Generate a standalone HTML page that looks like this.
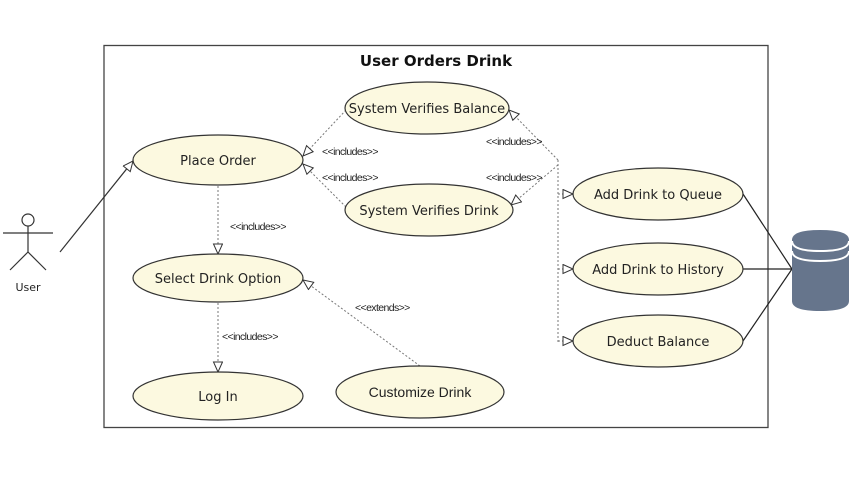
<!DOCTYPE html>
<html><head><meta charset="utf-8"><style>
html,body{margin:0;padding:0;background:#fff;width:859px;height:477px;overflow:hidden}
svg{display:block}
text{font-family:"DejaVu Sans","Liberation Sans",sans-serif;fill:#222}
.s{font-family:"Liberation Sans",sans-serif;font-size:10.5px;letter-spacing:-0.6px}
</style></head><body>
<svg width="859" height="477" viewBox="0 0 859 477" xmlns="http://www.w3.org/2000/svg">
<defs>
<marker id="t" markerWidth="14" markerHeight="12" refX="11" refY="5" orient="auto" markerUnits="userSpaceOnUse">
<path d="M1,0.5 L11,5 L1,9.5 Z" fill="#fff" stroke="#333" stroke-width="1"/>
</marker>
</defs>
<rect x="104" y="45.5" width="664" height="382" fill="#fff" stroke="#444" stroke-width="1.3"/>
<text x="436" y="66" text-anchor="middle" font-size="15" font-weight="bold" style="fill:#111">User Orders Drink</text>

<circle cx="28" cy="220" r="6" fill="#fff" stroke="#333" stroke-width="1.2"/>
<line x1="28" y1="226" x2="28" y2="252" stroke="#333" stroke-width="1.2"/>
<line x1="3" y1="233" x2="53" y2="233" stroke="#333" stroke-width="1.2"/>
<line x1="28" y1="252" x2="10" y2="270" stroke="#333" stroke-width="1.2"/>
<line x1="28" y1="252" x2="46" y2="270" stroke="#333" stroke-width="1.2"/>
<text x="28" y="291" text-anchor="middle" font-size="11">User</text>
<line x1="60" y1="252" x2="133" y2="161" stroke="#333" stroke-width="1.2" marker-end="url(#t)"/>

<g stroke="#777" stroke-width="1" stroke-dasharray="2,2" fill="none">
<line x1="218" y1="186" x2="218" y2="254" marker-end="url(#t)"/>
<line x1="218" y1="303" x2="218" y2="372" marker-end="url(#t)"/>
<line x1="420" y1="366" x2="303" y2="280" marker-end="url(#t)"/>
<line x1="346" y1="110" x2="303" y2="156" marker-end="url(#t)"/>
<line x1="346" y1="207" x2="303" y2="164" marker-end="url(#t)"/>
<line x1="558" y1="160" x2="509" y2="110" marker-end="url(#t)"/>
<line x1="558" y1="165" x2="511" y2="205" marker-end="url(#t)"/>
<line x1="558" y1="160" x2="558" y2="343"/>
<line x1="558" y1="194" x2="573" y2="194" marker-end="url(#t)"/>
<line x1="558" y1="269" x2="573" y2="269" marker-end="url(#t)"/>
<line x1="558" y1="341" x2="573" y2="341" marker-end="url(#t)"/>
</g>
<text class="s" x="230" y="230">&lt;&lt;includes&gt;&gt;</text>
<text class="s" x="222" y="340">&lt;&lt;includes&gt;&gt;</text>
<text class="s" x="355" y="311">&lt;&lt;extends&gt;&gt;</text>
<text class="s" x="322" y="155">&lt;&lt;includes&gt;&gt;</text>
<text class="s" x="322" y="181">&lt;&lt;includes&gt;&gt;</text>
<text class="s" x="486" y="145">&lt;&lt;includes&gt;&gt;</text>
<text class="s" x="486" y="181">&lt;&lt;includes&gt;&gt;</text>

<g stroke="#222" stroke-width="1.2">
<line x1="743" y1="194" x2="792" y2="269"/>
<line x1="743" y1="269" x2="792" y2="269"/>
<line x1="743" y1="341" x2="792" y2="269"/>
</g>

<g fill="#fcf9e0" stroke="#333" stroke-width="1.2">
<ellipse cx="218" cy="160" rx="85" ry="25"/>
<ellipse cx="218" cy="278" rx="85" ry="24"/>
<ellipse cx="218" cy="396" rx="85" ry="24"/>
<ellipse cx="420" cy="392" rx="84" ry="26"/>
<ellipse cx="427" cy="108" rx="82" ry="26"/>
<ellipse cx="429" cy="210" rx="84" ry="26"/>
<ellipse cx="658" cy="194" rx="85" ry="26"/>
<ellipse cx="658" cy="269" rx="85" ry="26"/>
<ellipse cx="658" cy="341" rx="85" ry="26"/>
</g>
<g font-size="13" text-anchor="middle">
<text x="218" y="165">Place Order</text>
<text x="218" y="283">Select Drink Option</text>
<text x="218" y="401">Log In</text>
<text x="420" y="397" style="font-family:'Liberation Sans',sans-serif;font-size:14px">Customize Drink</text>
<text x="427" y="113">System Verifies Balance</text>
<text x="429" y="215">System Verifies Drink</text>
<text x="658" y="199">Add Drink to Queue</text>
<text x="658" y="274">Add Drink to History</text>
<text x="658" y="346">Deduct Balance</text>
</g>

<path d="M792,240 Q792,230 820,230 Q849,230 849,240 L849,301 Q849,311 820,311 Q792,311 792,301 Z" fill="#66758c"/>
<path d="M792,241 Q792,251 820,251 Q849,251 849,241" fill="none" stroke="#fff" stroke-width="2"/>
<path d="M792,251 Q792,261 820,261 Q849,261 849,251" fill="none" stroke="#fff" stroke-width="2"/>
</svg>
</body></html>
